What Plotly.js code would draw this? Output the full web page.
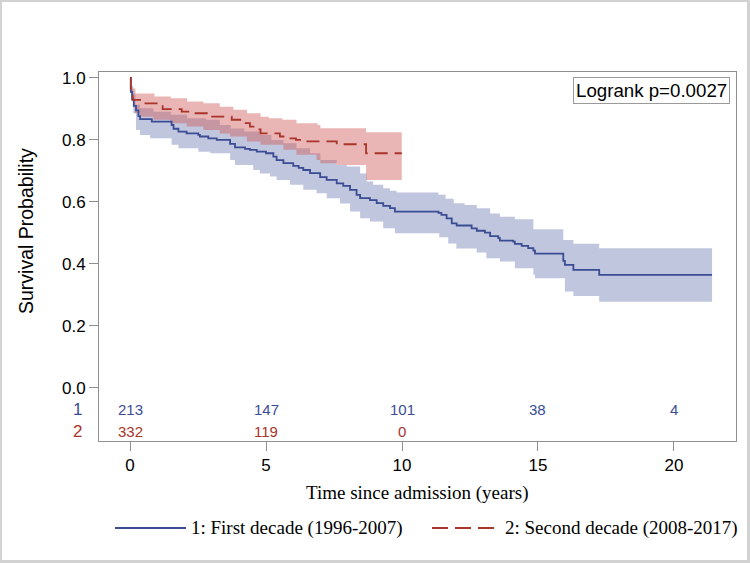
<!DOCTYPE html>
<html>
<head>
<meta charset="utf-8">
<script src="https://cdn.plot.ly/plotly-3.0.1.min.js"></script>
<style>
  html, body { margin: 0; padding: 0; background: #fff; }
  #wrap { position: relative; width: 750px; height: 563px; }
  #chart { width: 750px; height: 563px; }
  #frame { position: absolute; left: 0; top: 0; width: 750px; height: 563px; box-sizing: border-box;
           border: 2px solid #d2d2d2; border-right-width: 3px; border-bottom-width: 3px; pointer-events: none; }
</style>
</head>
<body>
<div id="wrap"><div id="chart"></div><div id="frame"></div></div>
<script>
// ---------- Data ----------
// Group 1: First decade (1996-2007)
const timeBlue = [0, 0.03, 0.08, 0.14, 0.22, 0.31, 0.37, 0.8, 1.53, 1.6, 1.78, 2.08, 2.51, 2.57, 2.88, 3.19, 3.68, 3.86, 4.23, 4.41, 4.66, 5.0, 5.27, 5.39, 5.64, 6.0, 6.2, 6.37, 6.62, 6.99, 7.23, 7.6, 7.84, 8.09, 8.33, 8.46, 8.82, 9.07, 9.31, 9.56, 9.74, 11.34, 11.45, 11.64, 11.83, 12.01, 12.56, 12.75, 13.05, 13.24, 13.54, 13.6, 14.09, 14.15, 14.4, 14.64, 14.83, 14.89, 15.93, 15.99, 16.3, 17.25, 21.4];
const survBlue = [1.0, 0.955, 0.93, 0.91, 0.895, 0.877, 0.867, 0.859, 0.848, 0.836, 0.827, 0.821, 0.816, 0.811, 0.805, 0.8, 0.787, 0.776, 0.771, 0.768, 0.762, 0.757, 0.746, 0.735, 0.725, 0.716, 0.71, 0.703, 0.693, 0.68, 0.671, 0.66, 0.652, 0.639, 0.623, 0.612, 0.606, 0.596, 0.587, 0.58, 0.569, 0.565, 0.558, 0.547, 0.531, 0.524, 0.515, 0.507, 0.501, 0.49, 0.483, 0.475, 0.472, 0.465, 0.458, 0.451, 0.443, 0.433, 0.41, 0.397, 0.381, 0.365, 0.365];
const hiTimeBlue = [0, 0.05, 0.12, 0.2, 0.37, 0.86, 1.5, 2.1, 2.8, 3.3, 3.7, 4.2, 4.8, 5.2, 5.64, 6.12, 6.62, 7.0, 7.6, 7.97, 8.46, 8.7, 8.94, 9.31, 9.56, 9.8, 11.34, 11.6, 11.9, 12.3, 12.75, 13.24, 13.6, 14.15, 14.83, 15.93, 16.3, 17.25, 21.4];
const hiBlue = [1.0, 0.975, 0.95, 0.913, 0.902, 0.891, 0.881, 0.87, 0.865, 0.848, 0.837, 0.827, 0.816, 0.8, 0.789, 0.773, 0.757, 0.735, 0.719, 0.714, 0.692, 0.666, 0.655, 0.644, 0.636, 0.63, 0.623, 0.61, 0.596, 0.59, 0.58, 0.563, 0.552, 0.544, 0.512, 0.477, 0.465, 0.451, 0.451];
const loTimeBlue = [0, 0.05, 0.12, 0.22, 0.37, 0.74, 1.53, 1.78, 2.51, 2.95, 3.68, 3.86, 4.53, 4.77, 5.15, 5.39, 5.88, 6.37, 6.86, 7.23, 7.72, 8.09, 8.46, 8.82, 9.31, 9.74, 11.37, 11.7, 12.0, 12.75, 13.1, 13.6, 14.15, 14.83, 14.89, 15.99, 16.3, 17.25, 21.4];
const loBlue = [1.0, 0.93, 0.886, 0.832, 0.816, 0.805, 0.784, 0.773, 0.762, 0.757, 0.735, 0.719, 0.703, 0.692, 0.682, 0.671, 0.655, 0.639, 0.628, 0.612, 0.595, 0.569, 0.547, 0.537, 0.515, 0.499, 0.486, 0.466, 0.45, 0.437, 0.418, 0.408, 0.386, 0.365, 0.354, 0.311, 0.297, 0.278, 0.278];

// Group 2: Second decade (2008-2017)
const timeRed = [0, 0.03, 0.1, 0.37, 1.2, 1.9, 2.2, 2.9, 3.74, 4.1, 4.41, 4.66, 4.8, 5.51, 5.9, 6.1, 6.3, 7.6, 8.68, 9.99];
const survRed = [1.0, 0.956, 0.929, 0.918, 0.899, 0.891, 0.886, 0.875, 0.865, 0.854, 0.843, 0.834, 0.821, 0.811, 0.805, 0.8, 0.795, 0.786, 0.757, 0.757];
const hiTimeRed = [0, 0.05, 0.2, 0.9, 1.5, 2.1, 2.7, 3.3, 3.8, 4.3, 4.8, 5.1, 5.6, 6.12, 6.9, 7.0, 8.68, 9.99];
const hiRed = [1.0, 0.966, 0.95, 0.94, 0.934, 0.924, 0.918, 0.907, 0.897, 0.886, 0.875, 0.87, 0.865, 0.854, 0.848, 0.838, 0.825, 0.825];
const loTimeRed = [0, 0.05, 0.18, 0.37, 0.86, 1.47, 2.08, 2.7, 3.3, 3.68, 4.3, 4.8, 5.64, 6.12, 6.86, 7.0, 7.6, 8.68, 9.99];
const loRed = [1.0, 0.93, 0.886, 0.875, 0.865, 0.854, 0.843, 0.832, 0.821, 0.811, 0.795, 0.784, 0.768, 0.752, 0.735, 0.725, 0.719, 0.671, 0.671];

// Numbers at risk
const riskTimes = [0, 5, 10, 15, 20];
const riskBlue = [213, 147, 101, 38, 4];
const riskRed = [332, 119, 0];

const xTicks = [0, 5, 10, 15, 20];
const yTicks = [0, 0.2, 0.4, 0.6, 0.8, 1.0];
const groupLabels = ['1: First decade (1996-2007)', '2: Second decade (2008-2017)'];
const pText = 'Logrank p=0.0027';

// ---------- Styling ----------
const BLUE = '#3A4C94';
const RED = '#A8342A';
const BLUE_FILL = 'rgba(111,126,179,0.44)';
const RED_FILL = 'rgba(208,91,91,0.45)';
const SANS = 'Liberation Sans, Arial, sans-serif';
const SERIF = 'Liberation Serif, Times New Roman, serif';
const FRAME = '#8f8f8f';

// plot area in pixels: left 99, right 736, top 72, bottom 441
const L = 99, R = 736, T = 72, B = 441;
const px = x => (x - L) / (R - L);
const py = y => (B - y) / (B - T);

const riskY1 = -0.068, riskY2 = -0.139;

const traces = [
  {x: loTimeBlue, y: loBlue, mode: 'lines', line: {shape: 'hv', width: 0, color: BLUE_FILL}, hoverinfo: 'skip', showlegend: false},
  {x: hiTimeBlue, y: hiBlue, mode: 'lines', line: {shape: 'hv', width: 0, color: BLUE_FILL}, fill: 'tonexty', fillcolor: BLUE_FILL, hoverinfo: 'skip', showlegend: false},
  {x: loTimeRed, y: loRed, mode: 'lines', line: {shape: 'hv', width: 0, color: RED_FILL}, hoverinfo: 'skip', showlegend: false},
  {x: hiTimeRed, y: hiRed, mode: 'lines', line: {shape: 'hv', width: 0, color: RED_FILL}, fill: 'tonexty', fillcolor: RED_FILL, hoverinfo: 'skip', showlegend: false},
  {x: timeBlue, y: survBlue, mode: 'lines', line: {shape: 'hv', width: 1.8, color: BLUE}, name: groupLabels[0], showlegend: false},
  {x: timeRed, y: survRed, mode: 'lines', line: {shape: 'hv', width: 1.8, color: RED, dash: '13px,7px'}, name: groupLabels[1], showlegend: false}
];

const annotations = [];
riskTimes.forEach((t, i) => {
  annotations.push({x: t, y: riskY1, xref: 'x', yref: 'y', text: String(riskBlue[i]), showarrow: false,
    font: {family: SANS, size: 15, color: BLUE}, xanchor: 'center', yanchor: 'middle'});
  if (i < riskRed.length) {
    annotations.push({x: t, y: riskY2, xref: 'x', yref: 'y', text: String(riskRed[i]), showarrow: false,
      font: {family: SANS, size: 15, color: RED}, xanchor: 'center', yanchor: 'middle'});
  }
});
annotations.push({x: px(84), y: riskY1, xref: 'paper', yref: 'y', text: '1', showarrow: false,
  font: {family: SANS, size: 17, color: BLUE}, xanchor: 'right', yanchor: 'middle'});
annotations.push({x: px(84), y: riskY2, xref: 'paper', yref: 'y', text: '2', showarrow: false,
  font: {family: SANS, size: 17, color: RED}, xanchor: 'right', yanchor: 'middle'});
annotations.push({x: px(730), y: py(77), xref: 'paper', yref: 'paper', text: pText, showarrow: false,
  font: {family: SANS, size: 18.7, color: '#000'}, xanchor: 'right', yanchor: 'top',
  bordercolor: '#9a9a9a', borderwidth: 1, borderpad: 2, bgcolor: '#fff'});
annotations.push({x: px(26), y: py(231), xref: 'paper', yref: 'paper', text: 'Survival Probability', showarrow: false,
  textangle: -90, font: {family: SANS, size: 19.5, color: '#000'}, xanchor: 'center', yanchor: 'middle'});
annotations.push({x: px(417), y: py(493), xref: 'paper', yref: 'paper', text: 'Time since admission (years)', showarrow: false,
  font: {family: SERIF, size: 19, color: '#000'}, xanchor: 'center', yanchor: 'middle'});
annotations.push({x: px(189), y: py(528), xref: 'paper', yref: 'paper', text: groupLabels[0], showarrow: false,
  font: {family: SERIF, size: 19, color: '#000'}, xanchor: 'left', yanchor: 'middle'});
annotations.push({x: px(503), y: py(528), xref: 'paper', yref: 'paper', text: groupLabels[1], showarrow: false,
  font: {family: SERIF, size: 19, color: '#000'}, xanchor: 'left', yanchor: 'middle'});

const shapes = [
  {type: 'line', xref: 'paper', yref: 'paper', x0: px(115), x1: px(186), y0: py(528), y1: py(528), line: {color: BLUE, width: 1.8}},
  {type: 'line', xref: 'paper', yref: 'paper', x0: px(432), x1: px(494), y0: py(528), y1: py(528), line: {color: RED, width: 1.8, dash: '16px,7px'}}
];

const layout = {
  width: 750, height: 563,
  margin: {l: L, r: 750 - R, t: T, b: 563 - B, pad: 0},
  paper_bgcolor: '#fff', plot_bgcolor: '#fff',
  showlegend: false,
  xaxis: {
    range: [-1.14, 22.28], tickvals: xTicks, ticktext: xTicks.map(String),
    ticks: 'outside', ticklen: 9, tickwidth: 1, tickcolor: FRAME,
    showline: true, mirror: true, linecolor: FRAME, linewidth: 1,
    showgrid: false, zeroline: false,
    tickfont: {family: SANS, size: 17, color: '#000'}
  },
  yaxis: {
    range: [-0.171, 1.019], tickvals: yTicks, ticktext: yTicks.map(v => v.toFixed(1)),
    ticks: 'outside', ticklen: 9, tickwidth: 1, tickcolor: FRAME,
    showline: true, mirror: true, linecolor: FRAME, linewidth: 1,
    showgrid: false, zeroline: false,
    tickfont: {family: SANS, size: 17, color: '#000'}
  },
  annotations: annotations,
  shapes: shapes
};

Plotly.newPlot('chart', traces, layout, {displayModeBar: false, staticPlot: true});
</script>
</body>
</html>
